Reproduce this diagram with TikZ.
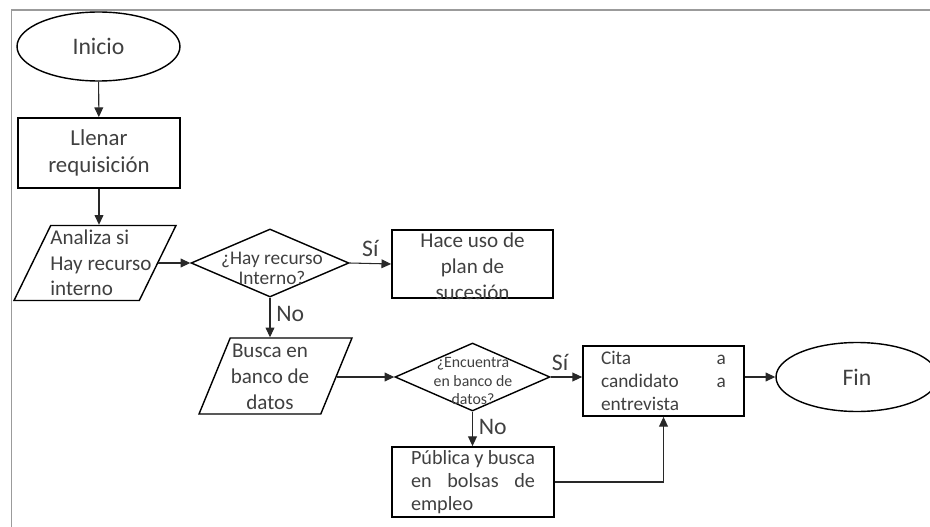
\documentclass[tikz,border=0pt]{standalone}
\usepackage{fontspec}
\setmainfont{Carlito}
\usetikzlibrary{shapes.geometric,arrows.meta}
\definecolor{framegray}{RGB}{155,155,155}
\definecolor{textgray}{RGB}{64,64,64}
\definecolor{linegray}{RGB}{40,40,40}

\begin{document}
\begin{tikzpicture}[x=0.02cm, y=-0.02cm,
    terminal/.style={ellipse, draw, line width=0.8pt, minimum width=3.26cm, minimum height=1.38cm, inner sep=0pt, text=textgray, font=\fontsize{13.5}{16}\selectfont},
    proceso/.style={rectangle, draw, line width=1pt, minimum width=3.22cm, minimum height=1.38cm, inner sep=0pt, text=textgray},
    datos/.style={trapezium, draw, line width=0.8pt, trapezium stretches=true, inner sep=1pt},
    decision/.style={diamond, draw, line width=0.8pt, inner sep=0pt},
    texto/.style={text=textgray, inner sep=0pt},
    flecha/.style={-{Triangle[length=5.5pt,width=5pt]}, line width=0.6pt, linegray},
    etiqueta/.style={text=textgray, font=\fontsize{13.5}{16}\selectfont}]
    \useasboundingbox (0,0) rectangle (930,527);
    % marco de la hoja
    \draw[framegray, line width=1.1pt] (930,10) -- (11.5,10) -- (11.5,527);

    % inicio y requisicion
    \node[terminal] (inicio) at (98.5,46.5) {Inicio};
    \node[proceso, minimum width=3.24cm, minimum height=1.4cm, align=center,
        font=\fontsize{13}{15.5}\selectfont] (llenar) at (99,153) {Llenar\\requisición};

    % recurso interno
    \node[datos, trapezium left angle=67.5, trapezium right angle=112.5,
        minimum width=3.24cm, minimum height=1.5cm] (analiza) at (95,263) {};
    \node[texto, anchor=west, align=left, font=\fontsize{12}{14.5}\selectfont]
        (analiza-txt) at (50,263) {Analiza si\\Hay recurso\\interno};
    \node[decision, minimum width=3.16cm, minimum height=1.36cm] (hay) at (270,263) {};
    \node[texto, align=center, font=\fontsize{11}{11.5}\selectfont]
        (hay-txt) at (272,268) {¿Hay recurso\\Interno?};
    \node[proceso, minimum height=1.36cm] (hace) at (472.5,264) {};
    \node[texto, align=center, font=\fontsize{12}{14.8}\selectfont]
        (hace-txt) at (472.5,266) {Hace uso de\\plan de\\sucesión};

    % banco de datos
    \node[datos, trapezium left angle=71, trapezium right angle=109,
        minimum width=3.06cm, minimum height=1.52cm] (busca) at (275.5,376) {};
    \node[texto, align=center, font=\fontsize{12}{14.8}\selectfont]
        (busca-txt) at (270,377) {Busca en\\banco de\\datos};
    \node[decision, minimum width=3.1cm, minimum height=1.36cm] (enc) at (472.5,377) {};
    \node[texto, align=center, font=\fontsize{9}{10.3}\selectfont]
        (enc-txt) at (473,381) {¿Encuentra\\en banco de\\datos?};
    \node[proceso, minimum height=1.4cm, align=left, font=\fontsize{11}{13}\selectfont]
        (cita) at (663.5,381) {\makebox[2.5cm][s]{Cita a}\\\makebox[2.5cm][s]{candidato a}\\entrevista};
    \node[terminal, minimum width=3.24cm] (fin) at (857,377) {Fin};
    \node[proceso, minimum width=3.24cm, minimum height=1.4cm, align=left,
        font=\fontsize{11.5}{13}\selectfont]
        (publica) at (473,482) {\makebox[2.48cm][s]{Pública y busca}\\\makebox[2.48cm][s]{en bolsas de}\\empleo};

    % conectores
    \draw[flecha] (inicio) -- (llenar);
    \draw[flecha] (llenar.south) -- (llenar.south |- analiza.north);
    \draw[flecha] (analiza.east) -- (hay.west);
    \draw[flecha] (hay.east) -- node[etiqueta, above] (si1) {Sí} (hace.west);
    \draw[flecha] (hay.south) -- node[etiqueta, right, pos=0.4] (no1) {No} (hay.south |- busca.north);
    \draw[flecha] (busca.east |- enc.west) -- (enc.west);
    \draw[flecha] (enc.east) -- node[etiqueta, above, pos=0.3] (si2) {Sí} (enc.east -| cita.west);
    \draw[flecha] (enc.south) -- node[etiqueta, right, pos=0.45] (no2) {No} (enc.south |- publica.north);
    \draw[flecha] (cita.east |- fin.west) -- (fin.west);
    \draw[flecha] (publica.east) -| (cita.south);
\end{tikzpicture}
\end{document}
